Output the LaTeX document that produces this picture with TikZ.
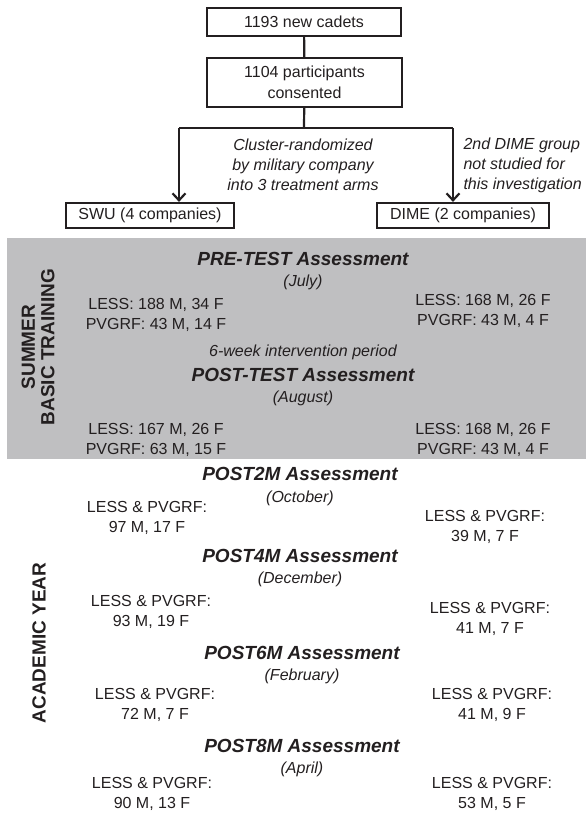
\documentclass[tikz,border=0pt]{standalone}
\usepackage{fontspec}
\setmainfont{Liberation Sans}
\usetikzlibrary{arrows.meta}
\definecolor{bandgray}{RGB}{191,191,193}
\definecolor{ink}{RGB}{35,31,32}
\tikzset{
	box/.style={draw=ink, line width=2.2pt, text=ink, align=center, inner sep=0pt, font=\fontsize{16}{21}\selectfont},
	link/.style={draw=ink, line width=2.2pt},
	arrow/.style={link, -{Straight Barb[length=7pt, width=13pt, line width=2.2pt]}},
	note/.style={text=ink, align=center, font=\fontsize{16}{20}\selectfont\itshape},
	title/.style={text=ink, font=\fontsize{19}{20}\selectfont\bfseries\itshape},
	month/.style={text=ink, font=\fontsize{16}{20}\selectfont\itshape},
	count/.style={text=ink, align=center, font=\fontsize{16}{20}\selectfont},
	phase/.style={text=ink, align=center, rotate=90, font=\fontsize{19}{19.5}\selectfont\bfseries}
}
\begin{document}
\begin{tikzpicture}[x=1pt, y=1pt]
			%%%%% START %%%%%
			\useasboundingbox (0, 0) rectangle (586, -815);
			
			\fill[bandgray] (7, -238) rectangle (586, -459);
			
			\node[box, minimum width=194, minimum height=28] (cadets) at (304, -22) {1193 new cadets};
			\node[box, minimum width=195, minimum height=49] (consented) at (304.5, -82.5) {1104 participants\\consented};
			\draw[link] (cadets) -- (consented);
			
			\node[box, minimum width=168, minimum height=25] (swu) at (150, -215.5) {SWU (4 companies)};
			\node[box, minimum width=172, minimum height=25] (dime) at (463, -215.5) {DIME (2 companies)};
			
			\coordinate (split) at (304, -128);
			\coordinate (splitswu) at (179, -128);
			\coordinate (splitdime) at (453, -128);
			\draw[link] (consented) -- (split);
			\draw[link] (splitswu) -- (splitdime);
			\draw[arrow] (splitswu) -- (splitswu |- swu.north);
			\draw[arrow] (splitdime) -- (splitdime |- dime.north);
			
			\node[note] (cluster) at (303, -165) {Cluster-randomized\\by military company\\into 3 treatment arms};
			\node[note, align=left, anchor=west] (second) at (460, -165) {2nd DIME group\\not studied for\\this investigation};
			
			%%%%% SUMMER %%%%%
			\node[phase] (summer) at (38, -347) {SUMMER\\BASIC TRAINING};
			
			\node[title] (pretest) at (303, -259) {PRE-TEST Assessment};
			\node[month] (july) at (303, -282) {(July)};
			\node[count] (preswu) at (156, -315) {LESS: 188 M, 34 F\\PVGRF: 43 M, 14 F};
			\node[count] (predime) at (483, -311) {LESS: 168 M, 26 F\\PVGRF: 43 M, 4 F};
			\node[month] (period) at (303, -352) {6-week intervention period};
			
			\node[title] (posttest) at (303, -375) {POST-TEST Assessment};
			\node[month] (august) at (303, -398) {(August)};
			\node[count] (postswu) at (156, -440) {LESS: 167 M, 26 F\\PVGRF: 63 M, 15 F};
			\node[count] (postdime) at (483, -440) {LESS: 168 M, 26 F\\PVGRF: 43 M, 4 F};
			
			%%%%% ACADEMIC YEAR %%%%%
			\node[phase] (academic) at (39, -643) {ACADEMIC YEAR};
			
			\node[title] (post2m) at (300, -474) {POST2M Assessment};
			\node[month] (october) at (300, -498) {(October)};
			\node[count] (twoswu) at (147, -518) {LESS \& PVGRF:\\97 M, 17 F};
			\node[count] (twodime) at (485, -527) {LESS \& PVGRF:\\39 M, 7 F};
			
			\node[title] (post4m) at (300, -556) {POST4M Assessment};
			\node[month] (december) at (300, -579) {(December)};
			\node[count] (fourswu) at (151, -612) {LESS \& PVGRF:\\93 M, 19 F};
			\node[count] (fourdime) at (490, -619) {LESS \& PVGRF:\\41 M, 7 F};
			
			\node[title] (post6m) at (302, -653) {POST6M Assessment};
			\node[month] (february) at (302, -676) {(February)};
			\node[count] (sixswu) at (155, -705) {LESS \& PVGRF:\\72 M, 7 F};
			\node[count] (sixdime) at (492, -705) {LESS \& PVGRF:\\41 M, 9 F};
			
			\node[title] (post8m) at (302, -746) {POST8M Assessment};
			\node[month] (april) at (302, -769) {(April)};
			\node[count] (eightswu) at (152, -794) {LESS \& PVGRF:\\90 M, 13 F};
			\node[count] (eightdime) at (492, -794) {LESS \& PVGRF:\\53 M, 5 F};
			%%%%% END %%%%%
\end{tikzpicture}
\end{document}
